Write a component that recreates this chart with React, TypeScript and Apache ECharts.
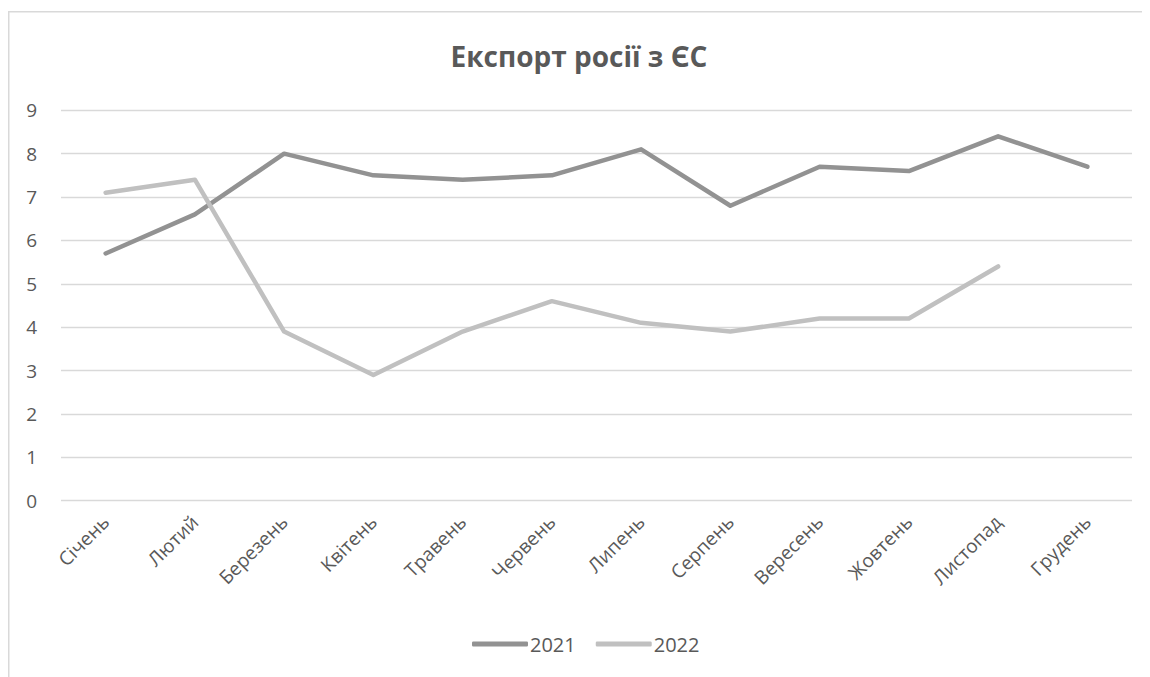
import React, { useEffect, useRef } from "react";
import * as echarts from "echarts";

const months = ["Січень", "Лютий", "Березень", "Квітень", "Травень", "Червень", "Липень", "Серпень", "Вересень", "Жовтень", "Листопад", "Грудень"];
const values2021 = [5.7, 6.6, 8.0, 7.5, 7.4, 7.5, 8.1, 6.8, 7.7, 7.6, 8.4, 7.7];
const values2022 = [7.1, 7.4, 3.9, 2.9, 3.9, 4.6, 4.1, 3.9, 4.2, 4.2, 5.4];
const yTicks = { min: 0, max: 9, interval: 1 };

const FONT = "'Open Sans', 'Noto Sans', sans-serif";
const TEXT = "#595959";

export default function App() {
  const ref = useRef<HTMLDivElement>(null);
  useEffect(() => {
    if (!ref.current) return;
    const chart = echarts.init(ref.current, null, { renderer: "svg" });
    chart.setOption({
      animation: false,
      backgroundColor: "#ffffff",
      textStyle: { fontFamily: FONT },
      title: {
        text: "Експорт росії з ЄС",
        left: "center",
        top: 29,
        textStyle: { fontFamily: FONT, fontSize: 28, fontWeight: "bold", color: TEXT },
      },
      graphic: [
        { type: "line", shape: { x1: 0.75, y1: 3.5, x2: 0.75, y2: 669 }, style: { stroke: "#d9d9d9", lineWidth: 1.5 } },
        { type: "line", shape: { x1: 0, y1: 3.75, x2: 1142, y2: 3.75 }, style: { stroke: "#d9d9d9", lineWidth: 1.5 } },
      ],
      legend: {
        data: [
          { name: "2021", icon: "roundRect" },
          { name: "2022", icon: "roundRect" },
        ],
        left: 459,
        top: 621,
        itemWidth: 56,
        itemHeight: 5,
        itemGap: 20,
        textStyle: { fontFamily: FONT, fontSize: 20, color: TEXT, padding: [0, 0, 0, -3] },
      },
      grid: { left: 53, right: 18, top: 102.3, bottom: 176.3, containLabel: false },
      xAxis: {
        type: "category",
        data: months,
        boundaryGap: true,
        axisLine: { show: false },
        axisTick: { show: false },
        axisLabel: { rotate: 45, margin: 18, fontSize: 19, color: TEXT, fontFamily: FONT, interval: 0 },
      },
      yAxis: {
        type: "value",
        min: yTicks.min,
        max: yTicks.max,
        interval: yTicks.interval,
        axisLine: { show: false },
        axisTick: { show: false },
        axisLabel: { fontSize: 19, color: TEXT, fontFamily: FONT, margin: 24 },
        splitLine: { lineStyle: { color: "#d9d9d9", width: 1.3 } },
      },
      series: [
        {
          name: "2021",
          type: "line",
          data: values2021,
          symbol: "none",
          color: "#929292",
          lineStyle: { color: "#929292", width: 4.5, cap: "round", join: "round" },
        },
        {
          name: "2022",
          type: "line",
          data: values2022,
          symbol: "none",
          color: "#c0c0c0",
          lineStyle: { color: "#c0c0c0", width: 4.5, cap: "round", join: "round" },
        },
      ],
    });
    return () => chart.dispose();
  }, []);
  return <div ref={ref} style={{ width: 1142, height: 669 }} />;
}
